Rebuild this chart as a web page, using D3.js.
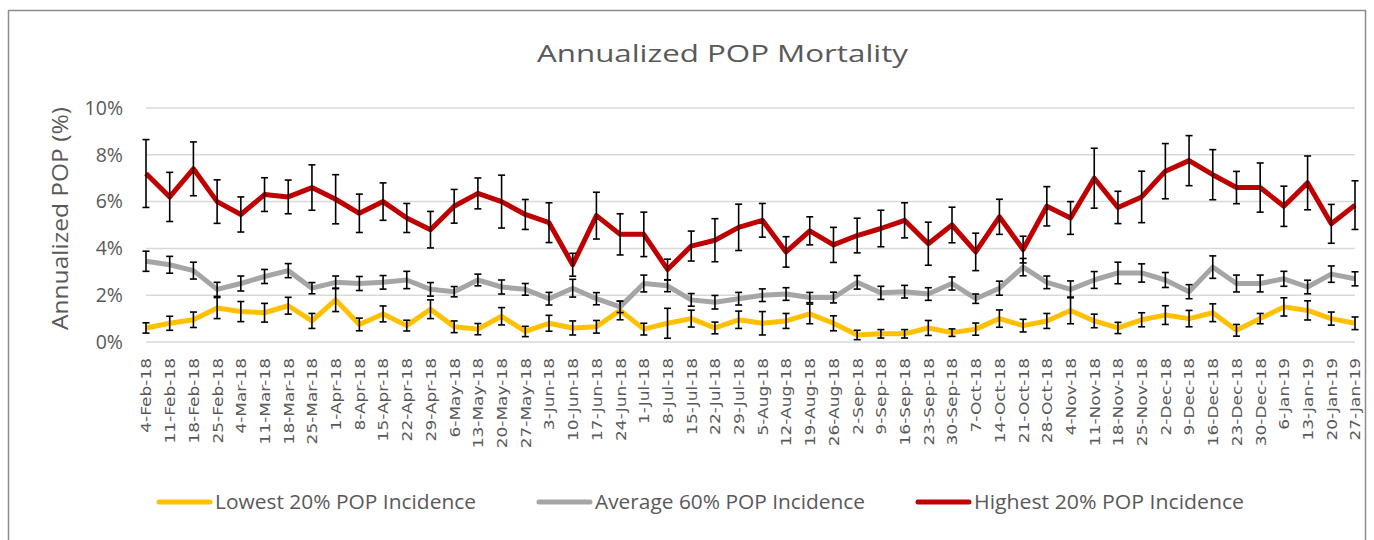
<!DOCTYPE html>
<html>
<head>
<meta charset="utf-8">
<script src="https://cdn.jsdelivr.net/npm/d3@7"></script>
<style>
  html, body { margin: 0; padding: 0; background: #fff; }
  svg { display: block; }
</style>
</head>
<body>
<svg id="chart" width="1374" height="540"></svg>
<script>
const weeks = ["4-Feb-18","11-Feb-18","18-Feb-18","25-Feb-18","4-Mar-18","11-Mar-18","18-Mar-18","25-Mar-18",
  "1-Apr-18","8-Apr-18","15-Apr-18","22-Apr-18","29-Apr-18","6-May-18","13-May-18","20-May-18","27-May-18",
  "3-Jun-18","10-Jun-18","17-Jun-18","24-Jun-18","1-Jul-18","8-Jul-18","15-Jul-18","22-Jul-18","29-Jul-18",
  "5-Aug-18","12-Aug-18","19-Aug-18","26-Aug-18","2-Sep-18","9-Sep-18","16-Sep-18","23-Sep-18","30-Sep-18",
  "7-Oct-18","14-Oct-18","21-Oct-18","28-Oct-18","4-Nov-18","11-Nov-18","18-Nov-18","25-Nov-18",
  "2-Dec-18","9-Dec-18","16-Dec-18","23-Dec-18","30-Dec-18","6-Jan-19","13-Jan-19","20-Jan-19","27-Jan-19"];

const lowest = [0.6,0.8,0.95,1.45,1.3,1.25,1.55,0.9,1.8,0.75,1.2,0.7,1.4,0.65,0.55,1.1,0.45,0.8,0.6,0.65,1.35,0.55,0.8,1.0,0.6,0.95,
  0.8,0.9,1.2,0.8,0.3,0.35,0.35,0.6,0.4,0.55,1.0,0.7,0.9,1.35,0.9,0.6,0.95,1.15,1.0,1.25,0.5,1.0,1.5,1.35,1.0,0.8];
const lowestErr = [0.22,0.3,0.33,0.45,0.43,0.4,0.36,0.32,0.5,0.27,0.34,0.23,0.4,0.25,0.24,0.37,0.22,0.34,0.3,0.27,0.4,0.25,0.64,0.36,0.25,0.37,
  0.5,0.32,0.42,0.32,0.2,0.18,0.18,0.32,0.16,0.26,0.37,0.27,0.32,0.57,0.29,0.24,0.3,0.4,0.35,0.38,0.25,0.22,0.39,0.41,0.28,0.27];

const average = [3.45,3.3,3.05,2.25,2.5,2.8,3.05,2.3,2.55,2.5,2.55,2.65,2.25,2.15,2.65,2.35,2.25,1.85,2.3,1.85,1.5,2.5,2.4,1.8,1.7,1.85,
  2.0,2.05,1.9,1.9,2.55,2.1,2.15,2.05,2.5,1.85,2.3,3.2,2.55,2.25,2.65,2.95,2.95,2.65,2.15,3.2,2.5,2.5,2.7,2.35,2.9,2.7];
const averageErr = [0.43,0.36,0.36,0.3,0.32,0.3,0.3,0.24,0.27,0.3,0.29,0.37,0.29,0.22,0.25,0.3,0.25,0.27,0.38,0.26,0.24,0.36,0.25,0.27,0.29,0.27,
  0.27,0.27,0.22,0.23,0.29,0.28,0.27,0.27,0.28,0.2,0.3,0.37,0.27,0.36,0.36,0.46,0.39,0.32,0.3,0.48,0.36,0.36,0.32,0.29,0.35,0.3];

const highest = [7.2,6.2,7.4,6.0,5.45,6.3,6.2,6.6,6.1,5.5,6.0,5.3,4.8,5.8,6.35,6.0,5.45,5.1,3.3,5.4,4.6,4.6,3.1,4.1,4.35,4.9,
  5.2,3.85,4.75,4.15,4.55,4.85,5.2,4.2,5.0,3.85,5.35,3.95,5.8,5.3,7.0,5.75,6.2,7.3,7.75,7.15,6.6,6.6,5.8,6.8,5.05,5.85];
const highestErr = [1.45,1.05,1.15,0.93,0.75,0.72,0.72,0.97,1.05,0.82,0.8,0.62,0.78,0.72,0.66,1.13,0.64,0.85,0.49,1.0,0.88,0.95,0.44,0.64,0.92,0.99,
  0.72,0.65,0.6,0.75,0.74,0.78,0.75,0.92,0.76,0.8,0.75,0.57,0.84,0.7,1.28,0.69,1.1,1.18,1.07,1.07,0.69,1.05,0.86,1.15,0.83,1.04];

const yTicks = [0, 2, 4, 6, 8, 10];
const seriesNames = ["Lowest 20% POP Incidence", "Average 60% POP Incidence", "Highest 20% POP Incidence"];
const seriesColors = ["#FFC000", "#A5A5A5", "#C00000"];

const series = [
  { name: seriesNames[0], color: seriesColors[0], values: lowest, errs: lowestErr },
  { name: seriesNames[1], color: seriesColors[1], values: average, errs: averageErr },
  { name: seriesNames[2], color: seriesColors[2], values: highest, errs: highestErr }
];

const svg = d3.select("#chart");
const textColor = "#595959";
const uiFont = "'Open Sans', Lato, sans-serif";

// outer frame
svg.append("rect")
  .attr("x", 8.5).attr("y", 10.5)
  .attr("width", 1357).attr("height", 560)
  .attr("fill", "none").attr("stroke", "#8c8c8c").attr("stroke-width", 1.5);

const x = d3.scalePoint().domain(d3.range(weeks.length)).range([146, 1355]);
const y = d3.scaleLinear().domain([0, 10]).range([342, 108]);

// title
svg.append("text")
  .attr("x", 537).attr("y", 62)
  .attr("font-family", uiFont)
  .attr("font-size", 24)
  .attr("textLength", 371)
  .attr("lengthAdjust", "spacingAndGlyphs")
  .attr("fill", textColor)
  .text("Annualized POP Mortality");

// gridlines
svg.append("g").selectAll("line").data(yTicks).join("line")
  .attr("x1", 146).attr("x2", 1355)
  .attr("y1", d => y(d)).attr("y2", d => y(d))
  .attr("stroke", "#D9D9D9").attr("stroke-width", 1.5);

// y axis labels
const yAxis = d3.axisLeft(y).tickValues(yTicks).tickFormat(d => d + "%").tickSize(0).tickPadding(0);
const yg = svg.append("g").attr("transform", "translate(123,0)").call(yAxis);
yg.select(".domain").remove();
yg.selectAll("text")
  .attr("font-family", uiFont)
  .attr("font-size", 19.5)
  .attr("fill", textColor);

// y title
svg.append("text")
  .attr("transform", "translate(68,330) rotate(-90)")
  .attr("font-family", uiFont)
  .attr("font-size", 21)
  .attr("textLength", 223)
  .attr("lengthAdjust", "spacingAndGlyphs")
  .attr("fill", textColor)
  .text("Annualized POP (%)");

// x axis labels
const xAxis = d3.axisBottom(x).tickFormat(i => weeks[i]).tickSize(0).tickPadding(0);
const xg = svg.append("g").attr("transform", "translate(0,342)").call(xAxis);
xg.select(".domain").remove();
xg.selectAll("text")
  .attr("font-family", "'DejaVu Sans', sans-serif")
  .attr("font-size", 17)
  .attr("fill", textColor)
  .attr("text-anchor", "end")
  .attr("transform", "translate(0,16) rotate(-90) scale(1,0.8)")
  .attr("x", 0).attr("y", 0).attr("dy", "0.36em");

// series
const line = d3.line().x((d, i) => x(i)).y(d => y(d)).curve(d3.curveLinear);
const capW = 3.5;
series.forEach(s => {
  const g = svg.append("g");
  g.append("path")
    .attr("d", line(s.values))
    .attr("fill", "none")
    .attr("stroke", s.color)
    .attr("stroke-width", 5)
    .attr("stroke-linejoin", "round");
  const eb = g.append("g").attr("stroke", "#000").attr("stroke-width", 1.6).attr("fill", "none");
  s.values.forEach((v, i) => {
    const e = s.errs[i];
    const cx = x(i);
    eb.append("line").attr("x1", cx).attr("x2", cx).attr("y1", y(v + e)).attr("y2", y(v - e));
    eb.append("line").attr("x1", cx - capW).attr("x2", cx + capW).attr("y1", y(v + e)).attr("y2", y(v + e));
    eb.append("line").attr("x1", cx - capW).attr("x2", cx + capW).attr("y1", y(v - e)).attr("y2", y(v - e));
  });
});

// legend
const legendX = [157, 537, 916];
const legendW = [261, 270, 270];
const lg = svg.append("g");
series.forEach((s, k) => {
  lg.append("line")
    .attr("x1", legendX[k] + 2).attr("x2", legendX[k] + 53)
    .attr("y1", 502).attr("y2", 502)
    .attr("stroke", s.color).attr("stroke-width", 5).attr("stroke-linecap", "round");
  lg.append("text")
    .attr("x", legendX[k] + 58).attr("y", 509)
    .attr("font-family", "'Liberation Sans Narrow', 'Open Sans', sans-serif")
    .attr("font-size", 20)
    .attr("textLength", legendW[k])
    .attr("lengthAdjust", "spacingAndGlyphs")
    .attr("fill", textColor)
    .text(s.name);
});
</script>
</body>
</html>
